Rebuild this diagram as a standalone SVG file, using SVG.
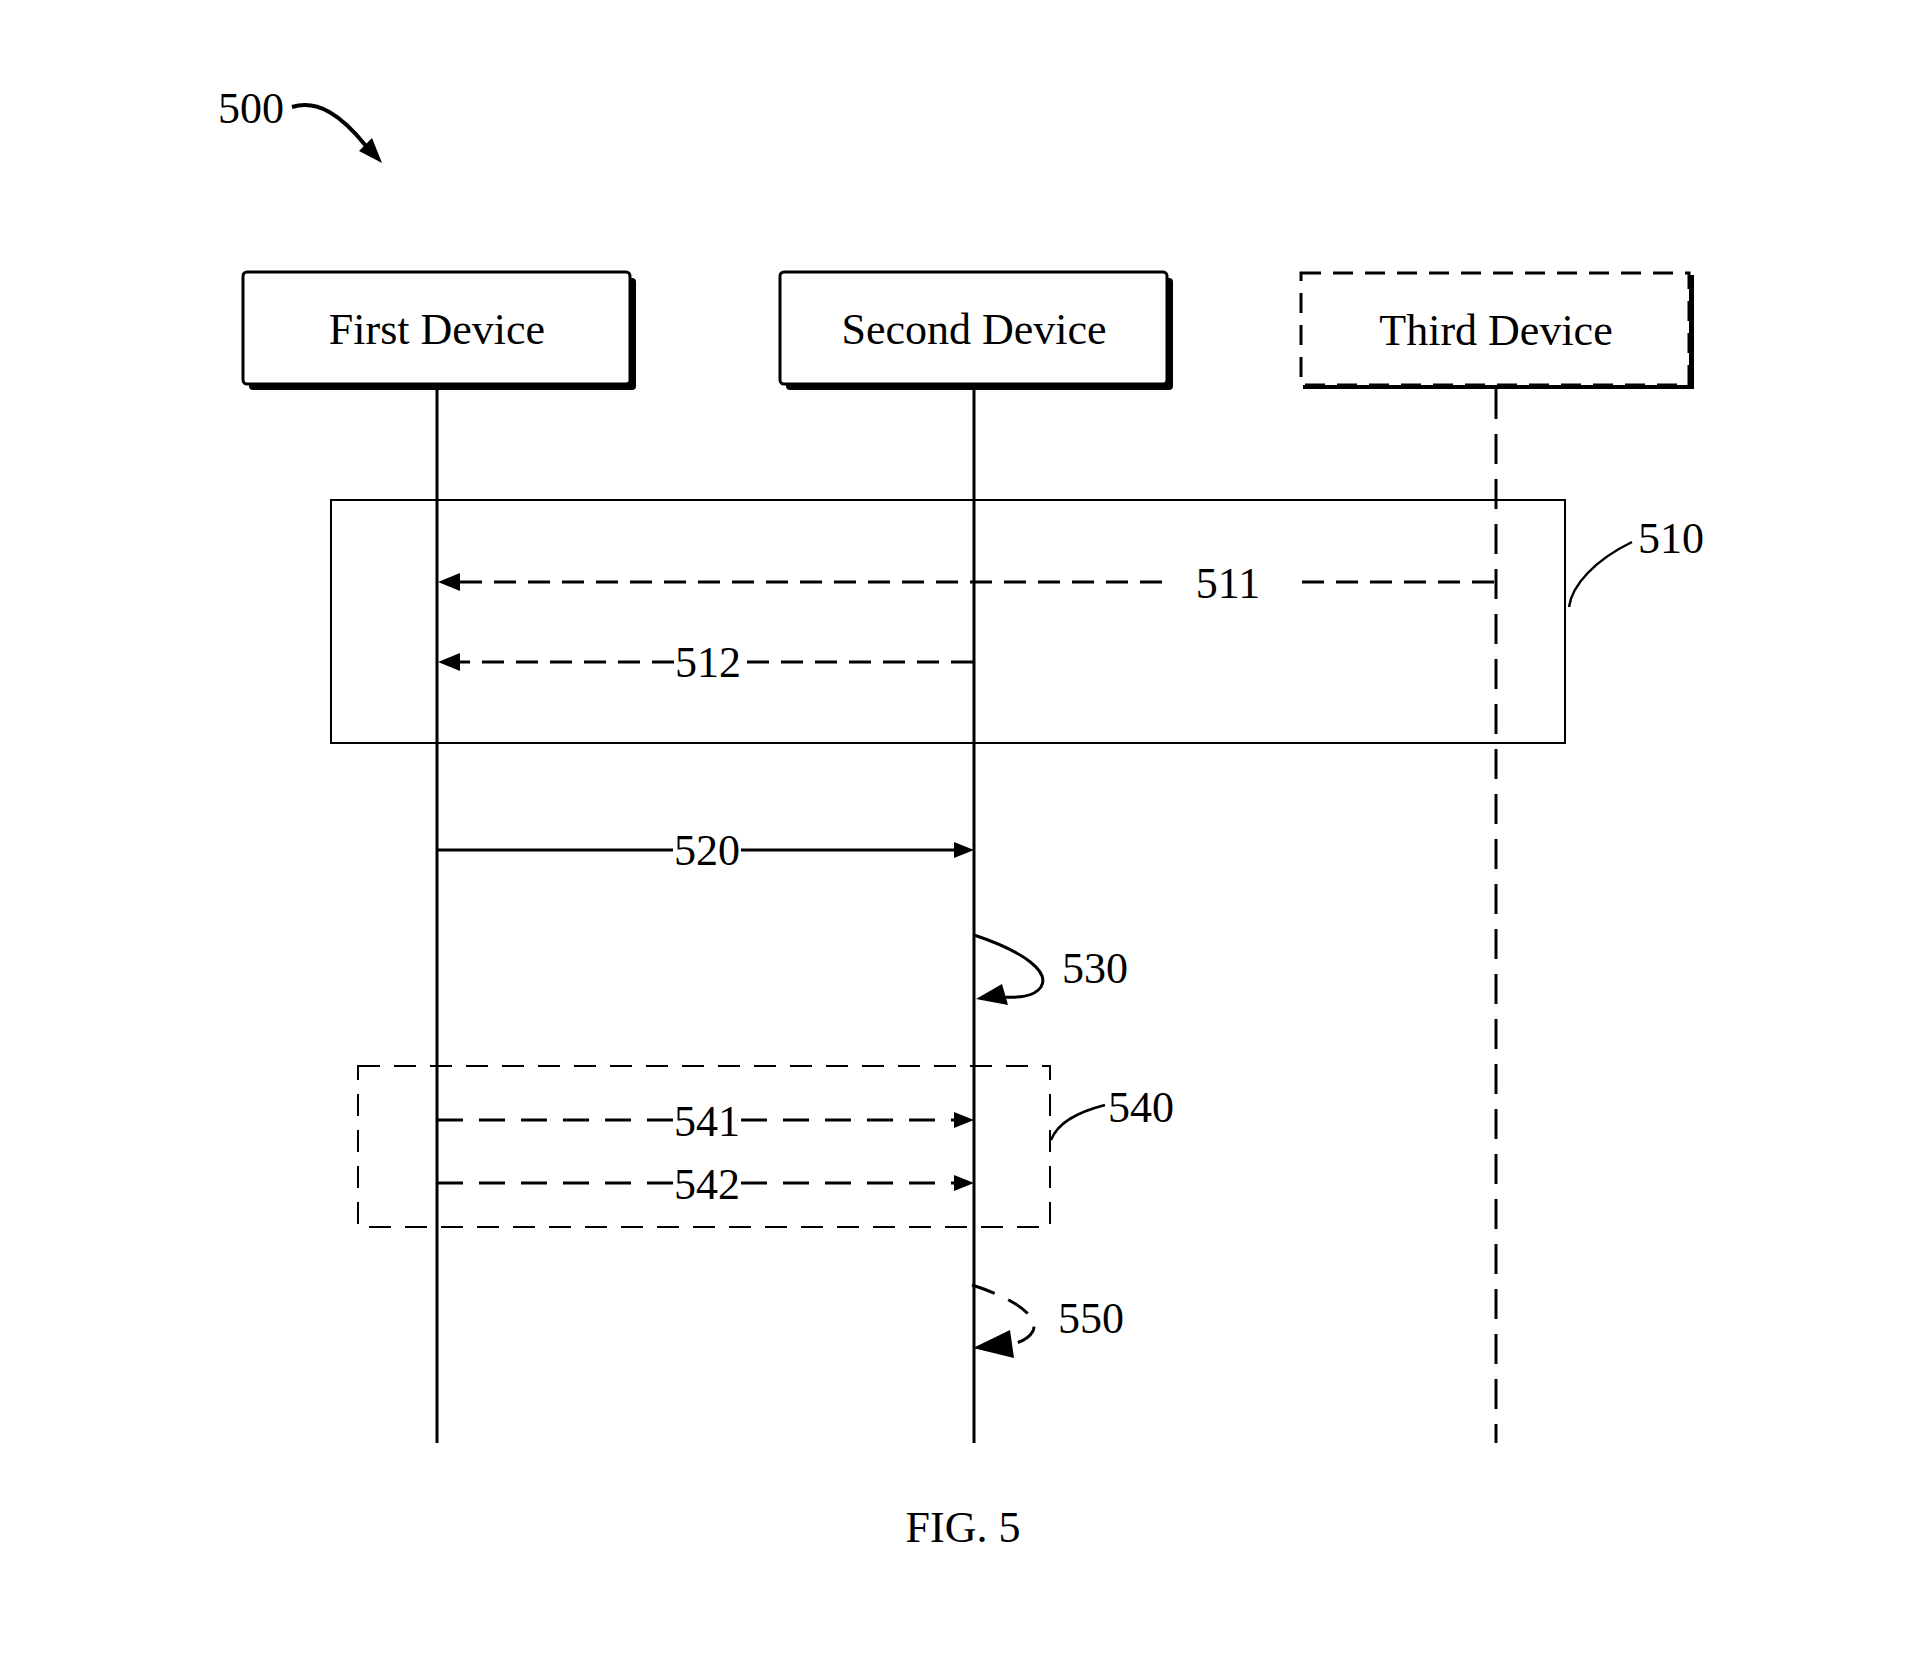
<svg xmlns="http://www.w3.org/2000/svg" width="1920" height="1674" viewBox="0 0 1920 1674">
<style>
text{font-family:"Liberation Serif","Times New Roman",serif;font-size:44px;fill:#000}
.c{text-anchor:middle}
.life{stroke:#000;stroke-width:3;fill:none}
.msg{stroke:#000;stroke-width:3;fill:none}
.dash{stroke-dasharray:26 16}
.dash2{stroke-dasharray:22 12}
.frame{stroke:#000;stroke-width:2;fill:none}
.box{fill:#fff;stroke:#000;stroke-width:3}
</style>
<rect width="1920" height="1674" fill="#fff"/>
<g id="label-500">
<text x="218" y="123">500</text>
<path d="M292,107 C318,99 342,116 366,146" stroke="#000" stroke-width="4" fill="none"/>
<polygon points="382,163 359,151 372,138" fill="#000"/>
</g>
<g id="frame-510">
<rect class="frame" x="331" y="500" width="1234" height="243"/>
<path d="M1569,607 C1572,585 1595,560 1632,542" stroke="#000" stroke-width="2.5" fill="none"/>
<text x="1638" y="553">510</text>
</g>
<g id="frame-540">
<rect class="frame" x="358" y="1066" width="692" height="161" style="stroke-dasharray:22 14"/>
<path d="M1051,1140 C1058,1122 1078,1112 1105,1105" stroke="#000" stroke-width="2.5" fill="none"/>
<text x="1108" y="1122">540</text>
</g>
<g id="first-device">
<rect x="249" y="278" width="387" height="112" rx="4" fill="#000"/>
<rect class="box" x="243" y="272" width="387" height="112" rx="4"/>
<text class="c" x="437" y="344">First Device</text>
</g>
<g id="second-device">
<rect x="786" y="278" width="387" height="112" rx="4" fill="#000"/>
<rect class="box" x="780" y="272" width="387" height="112" rx="4"/>
<text class="c" x="974" y="344">Second Device</text>
</g>
<g id="third-device">
<path d="M1303,386 L1691,386 L1691,275" stroke="#000" stroke-width="6" fill="none"/>
<rect x="1301" y="273" width="388" height="112" fill="#fff" stroke="#000" stroke-width="3" stroke-dasharray="20 12"/>
<text class="c" x="1496" y="345">Third Device</text>
</g>
<g id="connectors">
<line class="life" x1="437" y1="387" x2="437" y2="1443"/>
<line class="life" x1="974" y1="387" x2="974" y2="1443"/>
<line class="life" x1="1496" y1="389" x2="1496" y2="1443" style="stroke-dasharray:30 15"/>
<!-- 511 -->
<line class="msg dash2" x1="1494" y1="582" x2="1290" y2="582"/>
<line class="msg dash2" x1="1162" y1="582" x2="452" y2="582"/>
<polygon points="438,582 460,573 460,591" fill="#000"/>
<text class="c" x="1228" y="598">511</text>
<!-- 512 -->
<line class="msg dash2" x1="973" y1="662" x2="742" y2="662"/>
<line class="msg dash2" x1="674" y1="662" x2="452" y2="662"/>
<polygon points="438,662 460,653 460,671" fill="#000"/>
<text class="c" x="708" y="677">512</text>
<!-- 520 -->
<line class="msg" x1="437" y1="850" x2="673" y2="850"/>
<line class="msg" x1="741" y1="850" x2="958" y2="850"/>
<polygon points="974,850 954,842 954,858" fill="#000"/>
<text class="c" x="707" y="865">520</text>
<!-- 530 -->
<path class="msg" d="M974,935 C1025,952 1050,972 1041,987 C1034,997 1018,998 1000,997"/>
<polygon points="976,999 1002,984 1008,1005" fill="#000"/>
<text x="1062" y="983">530</text>
<!-- 541 -->
<line class="msg dash" x1="437" y1="1120" x2="674" y2="1120"/>
<line class="msg dash" x1="741" y1="1120" x2="958" y2="1120"/>
<polygon points="974,1120 954,1112 954,1128" fill="#000"/>
<text class="c" x="707" y="1136">541</text>
<!-- 542 -->
<line class="msg dash" x1="437" y1="1183" x2="674" y2="1183"/>
<line class="msg dash" x1="741" y1="1183" x2="958" y2="1183"/>
<polygon points="974,1183 954,1175 954,1191" fill="#000"/>
<text class="c" x="707" y="1199">542</text>
<!-- 550 -->
<path class="msg" d="M972,1285 C1010,1297 1040,1315 1033,1331 C1028,1340 1018,1343 1008,1345" style="stroke-dasharray:24 15"/>
<polygon points="973,1348 1010,1330 1014,1358" fill="#000"/>
<text x="1058" y="1333">550</text>
</g>
<text class="c" x="963" y="1542">FIG. 5</text>
</svg>
